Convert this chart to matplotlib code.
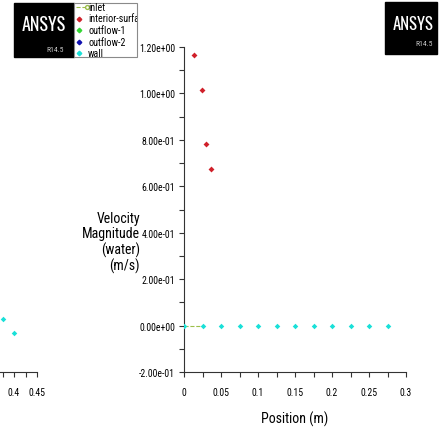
import numpy as np
import matplotlib
matplotlib.use("Agg")
import matplotlib.pyplot as plt
from matplotlib.ticker import MultipleLocator, FormatStrFormatter
from matplotlib.patches import Rectangle

plt.rcParams['font.family'] = ['Roboto Condensed', 'DejaVu Sans']

W, H = 444, 435

# interior-surface velocity (m/s) vs position (m)
interior_x = [0.0139, 0.0243, 0.0300, 0.0360]
interior_v = [1.167, 1.014, 0.781, 0.675]

# wall nodes
wall_x = [0.0, 0.025, 0.05, 0.075, 0.1, 0.125, 0.15, 0.175, 0.2, 0.225, 0.25, 0.275]
wall_v = [0.0] * len(wall_x)

# inlet segment
inlet_x = [0.0, 0.025]
inlet_v = [0.0, 0.0]

# neighbouring plot (only its right edge shows)
side_x = [0.376, 0.400]
side_v = [0.03, -0.03]

xtick_vals = [0, 0.05, 0.1, 0.15, 0.2, 0.25, 0.3]
xtick_text = ['0', '0.05', '0.1', '0.15', '0.2', '0.25', '0.3']

red = '#d0202a'
cyan = '#19e0d8'
green = '#33d633'
blue = '#1010b0'
inlet_col = '#9cbf4a'
axcol = '#333333'


def px(x, y):
    return x / W, 1 - y / H


fig = plt.figure(figsize=(W / 100, H / 100), dpi=100)

# main axes: x 184..406 px, y 48..373 px
ax = fig.add_axes([184 / W, 1 - 373 / H, 222 / W, 325 / H])
ax.plot(inlet_x, inlet_v, color=inlet_col, lw=0.8, ls='--', zorder=2)
ax.scatter(wall_x, wall_v, s=8, color=cyan, marker='D', linewidths=0, zorder=3)
ax.scatter(interior_x, interior_v, s=9, color=red, marker='D', linewidths=0, zorder=3)
ax.set_xlim(0, 0.3)
ax.set_ylim(-0.2, 1.2)
for s in ['top', 'right']:
    ax.spines[s].set_visible(False)
for s in ['left', 'bottom']:
    ax.spines[s].set_linewidth(0.8)
    ax.spines[s].set_color(axcol)
ax.xaxis.set_minor_locator(MultipleLocator(0.025))
ax.yaxis.set_major_locator(MultipleLocator(0.2))
ax.yaxis.set_minor_locator(MultipleLocator(0.1))
ax.yaxis.set_major_formatter(FormatStrFormatter('%.2e'))
ax.set_xticks(xtick_vals)
ax.set_xticklabels(xtick_text)
ax.tick_params(which='both', direction='out', color=axcol, width=0.8, length=3.5, labelsize=7)
ax.tick_params(axis='x', pad=7)
ax.tick_params(axis='y', pad=3)

fig.text(*px(140, 243), 'Velocity\nMagnitude\n(water)\n(m/s)', ha='right', va='center',
         fontsize=10, linespacing=1.1)
fig.text(*px(295, 419), 'Position (m)', ha='center', va='center', fontsize=10)

# clipped neighbour axes on the left (0.4 at 14 px, 0.45 at 37 px)
ax2 = fig.add_axes([-170 / W, 1 - 373 / H, 207 / W, 325 / H])
ax2.scatter(side_x, side_v, s=8, color=cyan, marker='D', linewidths=0)
ax2.set_xlim(0, 0.45)
ax2.set_ylim(-0.2, 1.2)
for s in ['top', 'right', 'left']:
    ax2.spines[s].set_visible(False)
ax2.spines['bottom'].set_linewidth(0.8)
ax2.spines['bottom'].set_color(axcol)
ax2.set_yticks([])
ax2.set_xticks([0.4, 0.45])
ax2.set_xticklabels(['0.4', '0.45'])
ax2.xaxis.set_minor_locator(MultipleLocator(0.025))
ax2.tick_params(which='both', direction='out', length=3.5, width=0.8, color=axcol, labelsize=7, pad=7)
ax2.patch.set_alpha(0)


# logos
def logo(x0, y0, x1, y1, cx, cy, rx, ry, size):
    box = Rectangle(px(x0, y1), (x1 - x0) / W, (y1 - y0) / H, transform=fig.transFigure,
                    color='black', zorder=5)
    fig.patches.append(box)
    t1 = fig.text(*px(cx, cy), 'ANSYS', color='white', ha='center', va='center',
                  fontsize=size, family='Oswald', fontweight='medium', zorder=6)
    t2 = fig.text(*px(rx, ry), 'R14.5', color='#c8c8c8', ha='right', va='center',
                  fontsize=5.5, zorder=6)
    t1.set_clip_path(box)
    t2.set_clip_path(box)


logo(14, 4, 74, 58, 44, 25, 64, 50, 13)
logo(385, 3, 437, 55, 413, 24, 433, 44, 12)

# legend box
lbox = Rectangle(px(74, 58), 63 / W, 54 / H, transform=fig.transFigure,
                 facecolor='white', edgecolor='#8a8a8a', lw=0.8, zorder=5)
fig.patches.append(lbox)
names = ['inlet', 'interior-surface', 'outflow-1', 'outflow-2', 'wall']
cols = [inlet_col, red, green, blue, cyan]
for i, (n, c) in enumerate(zip(names, cols)):
    yy = px(0, 8 + i * 11.5)[1]
    if i == 0:
        fig.lines.append(plt.Line2D([76 / W, 87 / W], [yy, yy], transform=fig.transFigure,
                                    color=c, lw=0.8, ls='--', marker='o', markersize=2.8,
                                    markevery=[1], mfc='white', mec=c, zorder=6))
    else:
        fig.lines.append(plt.Line2D([79 / W], [yy], transform=fig.transFigure, color=c,
                                    marker='D', markersize=2.3, ls='none', zorder=6))
    t = fig.text(88 / W, yy, n, fontsize=7.2, va='center', ha='left', zorder=6)
    t.set_clip_path(lbox)

fig.savefig('out.png', dpi=100)
